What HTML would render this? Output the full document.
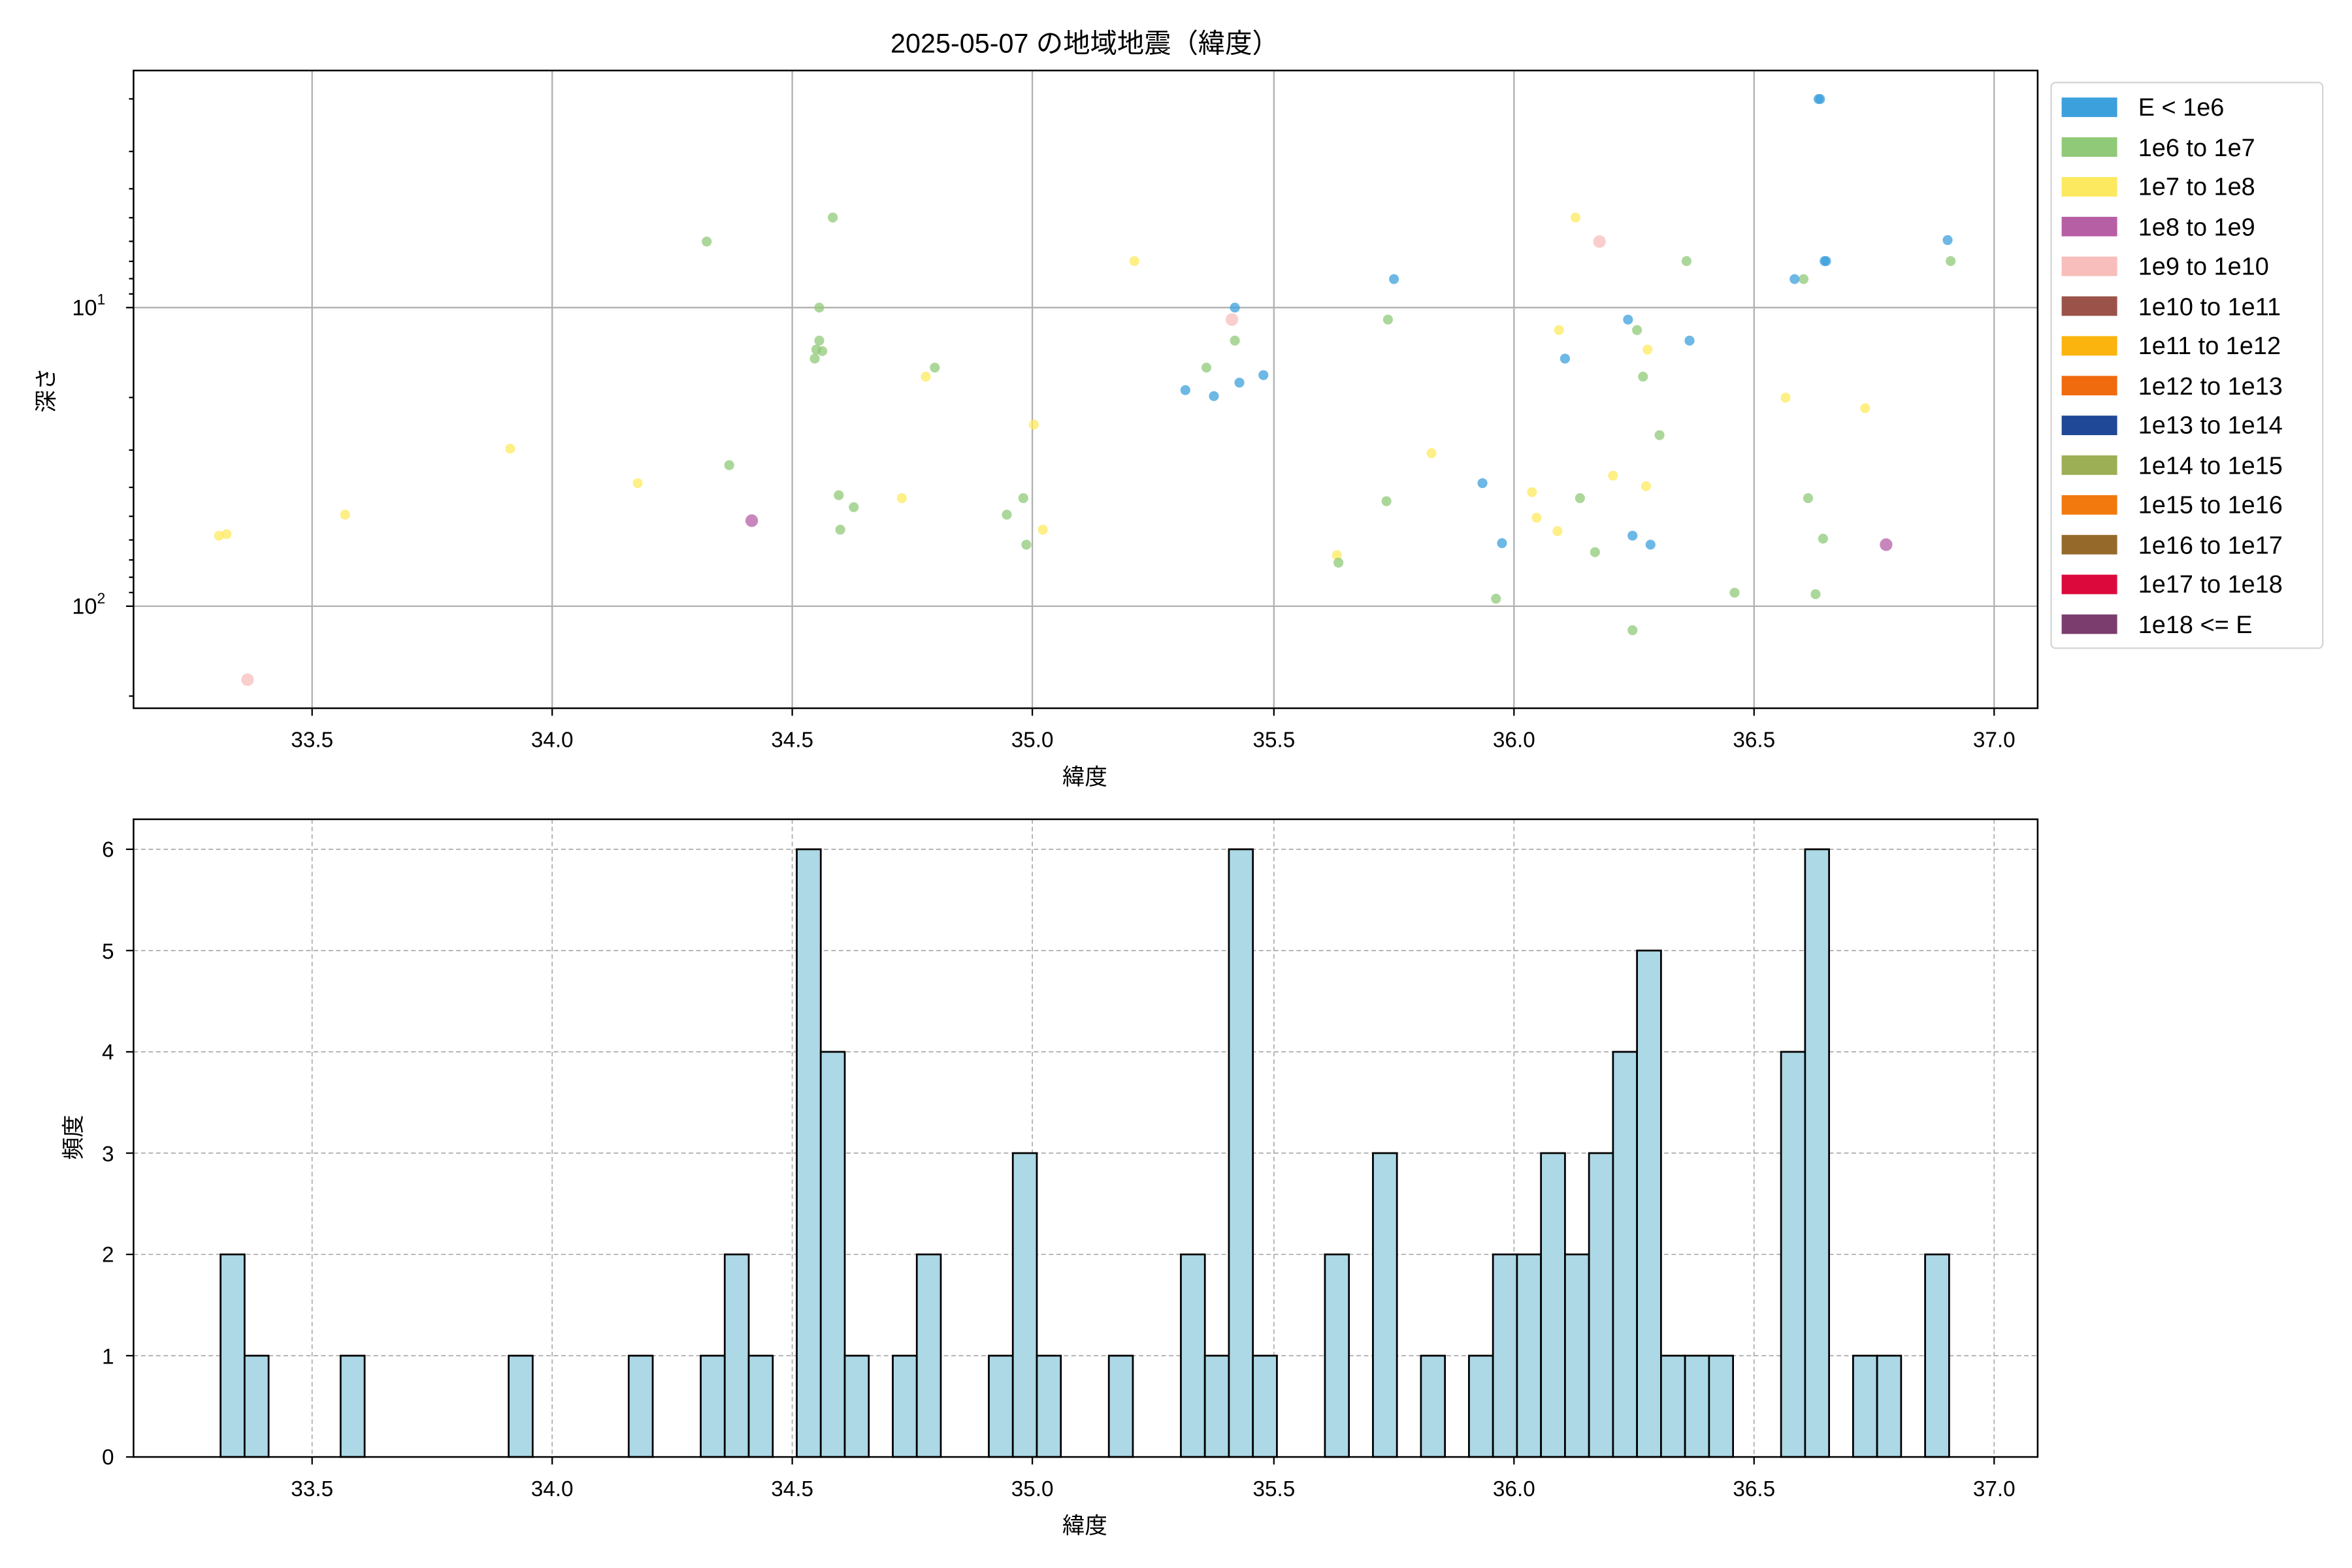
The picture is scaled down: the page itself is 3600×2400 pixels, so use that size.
<!DOCTYPE html>
<html><head><meta charset="utf-8"><style>
html,body{margin:0;padding:0;background:#fff}
svg{display:block}
text{font-family:"Liberation Sans","Noto Sans CJK JP",sans-serif;fill:#000}
</style></head><body>
<svg id="s" xmlns="http://www.w3.org/2000/svg" width="3600" height="2400" viewBox="0 0 1567.5 1045" preserveAspectRatio="none">
<rect width="1567.5" height="1045" fill="#fff"/>
<text x="723" y="35" font-size="18" text-anchor="middle">2025-05-07 の地域地震（緯度）</text>
<g id="topgrid" stroke="#b0b0b0" stroke-width="1"></g>
<g id="pts"></g>
<rect x="89" y="47" width="1269" height="425" fill="none" stroke="#000" stroke-width="1.1"/>
<g id="topticks" stroke="#000" stroke-width="1"></g>
<g font-size="14.5" text-anchor="middle">
<text x="208" y="498">33.5</text><text x="368" y="498">34.0</text><text x="528" y="498">34.5</text><text x="688" y="498">35.0</text><text x="849" y="498">35.5</text><text x="1009" y="498">36.0</text><text x="1169" y="498">36.5</text><text x="1329" y="498">37.0</text>
</g>
<text x="723" y="523" font-size="15" text-anchor="middle">緯度</text>
<text x="48" y="210" font-size="15">10<tspan font-size="10" dy="-7">1</tspan></text>
<text x="48" y="409" font-size="15">10<tspan font-size="10" dy="-7">2</tspan></text>
<text x="36" y="260" font-size="15" text-anchor="middle" transform="rotate(-90 36 260)">深さ</text>
<rect x="1367" y="55" width="181" height="377" rx="3" fill="#fff" stroke="#d5d5d5" stroke-width="1"/>
<g id="leg"></g>
<g font-size="16.5">
<text x="1425" y="77">E &lt; 1e6</text>
<text x="1425" y="104">1e6 to 1e7</text>
<text x="1425" y="130">1e7 to 1e8</text>
<text x="1425" y="157">1e8 to 1e9</text>
<text x="1425" y="183">1e9 to 1e10</text>
<text x="1425" y="210">1e10 to 1e11</text>
<text x="1425" y="236">1e11 to 1e12</text>
<text x="1425" y="263">1e12 to 1e13</text>
<text x="1425" y="289">1e13 to 1e14</text>
<text x="1425" y="316">1e14 to 1e15</text>
<text x="1425" y="342">1e15 to 1e16</text>
<text x="1425" y="369">1e16 to 1e17</text>
<text x="1425" y="395">1e17 to 1e18</text>
<text x="1425" y="422">1e18 &lt;= E</text>
</g>
<g id="botgrid" stroke="#b0b0b0" stroke-width="0.8" stroke-dasharray="3,2"></g>
<g id="bars"></g>
<rect x="89" y="546" width="1269" height="425" fill="none" stroke="#000" stroke-width="1.1"/>
<g id="botticks" stroke="#000" stroke-width="1"></g>
<g font-size="14.5" text-anchor="middle">
<text x="208" y="997">33.5</text><text x="368" y="997">34.0</text><text x="528" y="997">34.5</text><text x="688" y="997">35.0</text><text x="849" y="997">35.5</text><text x="1009" y="997">36.0</text><text x="1169" y="997">36.5</text><text x="1329" y="997">37.0</text>
</g>
<g font-size="14.5" text-anchor="end">
<text x="76" y="976">0</text><text x="76" y="909">1</text><text x="76" y="841">2</text><text x="76" y="774">3</text><text x="76" y="706">4</text><text x="76" y="639">5</text><text x="76" y="571">6</text>
</g>
<text x="723" y="1022" font-size="15" text-anchor="middle">緯度</text>
<text x="54" y="758" font-size="15" text-anchor="middle" transform="rotate(-90 54 758)">頻度</text>
</svg>
<script>
var NS="http://www.w3.org/2000/svg";
function el(p,t,a){var e=document.createElementNS(NS,t);for(var k in a)e.setAttribute(k,a[k]);document.getElementById(p).appendChild(e);return e;}
var xs=[208,368,528,688,849,1009,1169,1329];
xs.forEach(function(x){el("topgrid","line",{x1:x,y1:47,x2:x,y2:472});el("topticks","line",{x1:x,y1:472,x2:x,y2:477});
el("botgrid","line",{x1:x,y1:546,x2:x,y2:971});el("botticks","line",{x1:x,y1:971,x2:x,y2:976});});
[205,404].forEach(function(y){el("topgrid","line",{x1:89,y1:y,x2:1358,y2:y});el("topticks","line",{x1:84,y1:y,x2:89,y2:y});});
function yd(d){return 205+(Math.log10(d)-1)*199;}
[2,3,4,5,6,7,8,9,20,30,40,50,60,70,80,90,200].forEach(function(d){var y=yd(d);if(y>47&&y<472)el("topticks","line",{x1:86,y1:y,x2:89,y2:y});});
for(var i=0;i<=6;i++){var y=971-i*67.5;el("botgrid","line",{x1:89,y1:y,x2:1358,y2:y});el("botticks","line",{x1:84,y1:y,x2:89,y2:y});}
var C={b:"#3ca0dc",g:"#90c978",y:"#fde95f",p:"#b65fa5",k:"#f7bebc"};
var P={y:[[146,357],[151,356],[230,343],[340,299],[425,322],[601,332],[617,251],[689,283],[695,353],[756,174],[891,370],[954,302],[1021,328],[1024,345],[1038,354],[1039,220],[1050,145],[1075,317],[1097,324],[1098,233],[1190,265],[1243,272]],
k:[[165,453],[821,213],[1066,161]],p:[[501,347],[1257,363]],
g:[[471,161],[486,310],[555,145],[546,205],[546,227],[543,239],[544,233],[548,234],[559,330],[560,353],[569,338],[623,245],[671,343],[682,332],[684,363],[804,245],[823,227],[892,375],[925,213],[924,334],[997,399],[1053,332],[1063,368],[1091,220],[1095,251],[1106,290],[1124,174],[1156,395],[1202,186],[1205,332],[1215,359],[1210,396],[1088,420],[1300,174]],
b:[[790,260],[809,264],[823,205],[826,255],[842,250],[929,186],[988,322],[1001,362],[1043,239],[1085,213],[1088,357],[1100,363],[1126,227],[1196,186],[1212,66],[1213,66],[1216,174],[1217,174],[1298,160]]};
["y","g","b","p","k"].forEach(function(c){P[c].forEach(function(q){el("pts","circle",{cx:q[0],cy:q[1],r:(c=="k"||c=="p")?4.2:3.3,fill:C[c],"fill-opacity":0.75});});});
var L=["#3ca0dc","#90c978","#fde95f","#b65fa5","#f7bebc","#9a5249","#fbb40e","#f06a0e","#1f4896","#9caf54","#f2790e","#94692a","#dc0a3c","#7a3d6e"];
L.forEach(function(c,i){el("leg","rect",{x:1374,y:65+i*26.5,width:37,height:13,fill:c});});
var B=[[147,2],[163,1],[227,1],[339,1],[419,1],[467,1],[483,2],[499,1],[531,6],[547,4],[563,1],[595,1],[611,2],[659,1],[675,3],[691,1],[739,1],[787,2],[803,1],[819,6],[835,1],[883,2],[915,3],[947,1],[979,1],[995,2],[1011,2],[1027,3],[1043,2],[1059,3],[1075,4],[1091,5],[1107,1],[1123,1],[1139,1],[1187,4],[1203,6],[1235,1],[1251,1],[1283,2]];
B.forEach(function(b){var h=b[1]*67.5;el("bars","rect",{x:b[0],y:971-h,width:16,height:h,fill:"#add8e6",stroke:"#000","stroke-width":1.2});});
</script>
</body></html>
